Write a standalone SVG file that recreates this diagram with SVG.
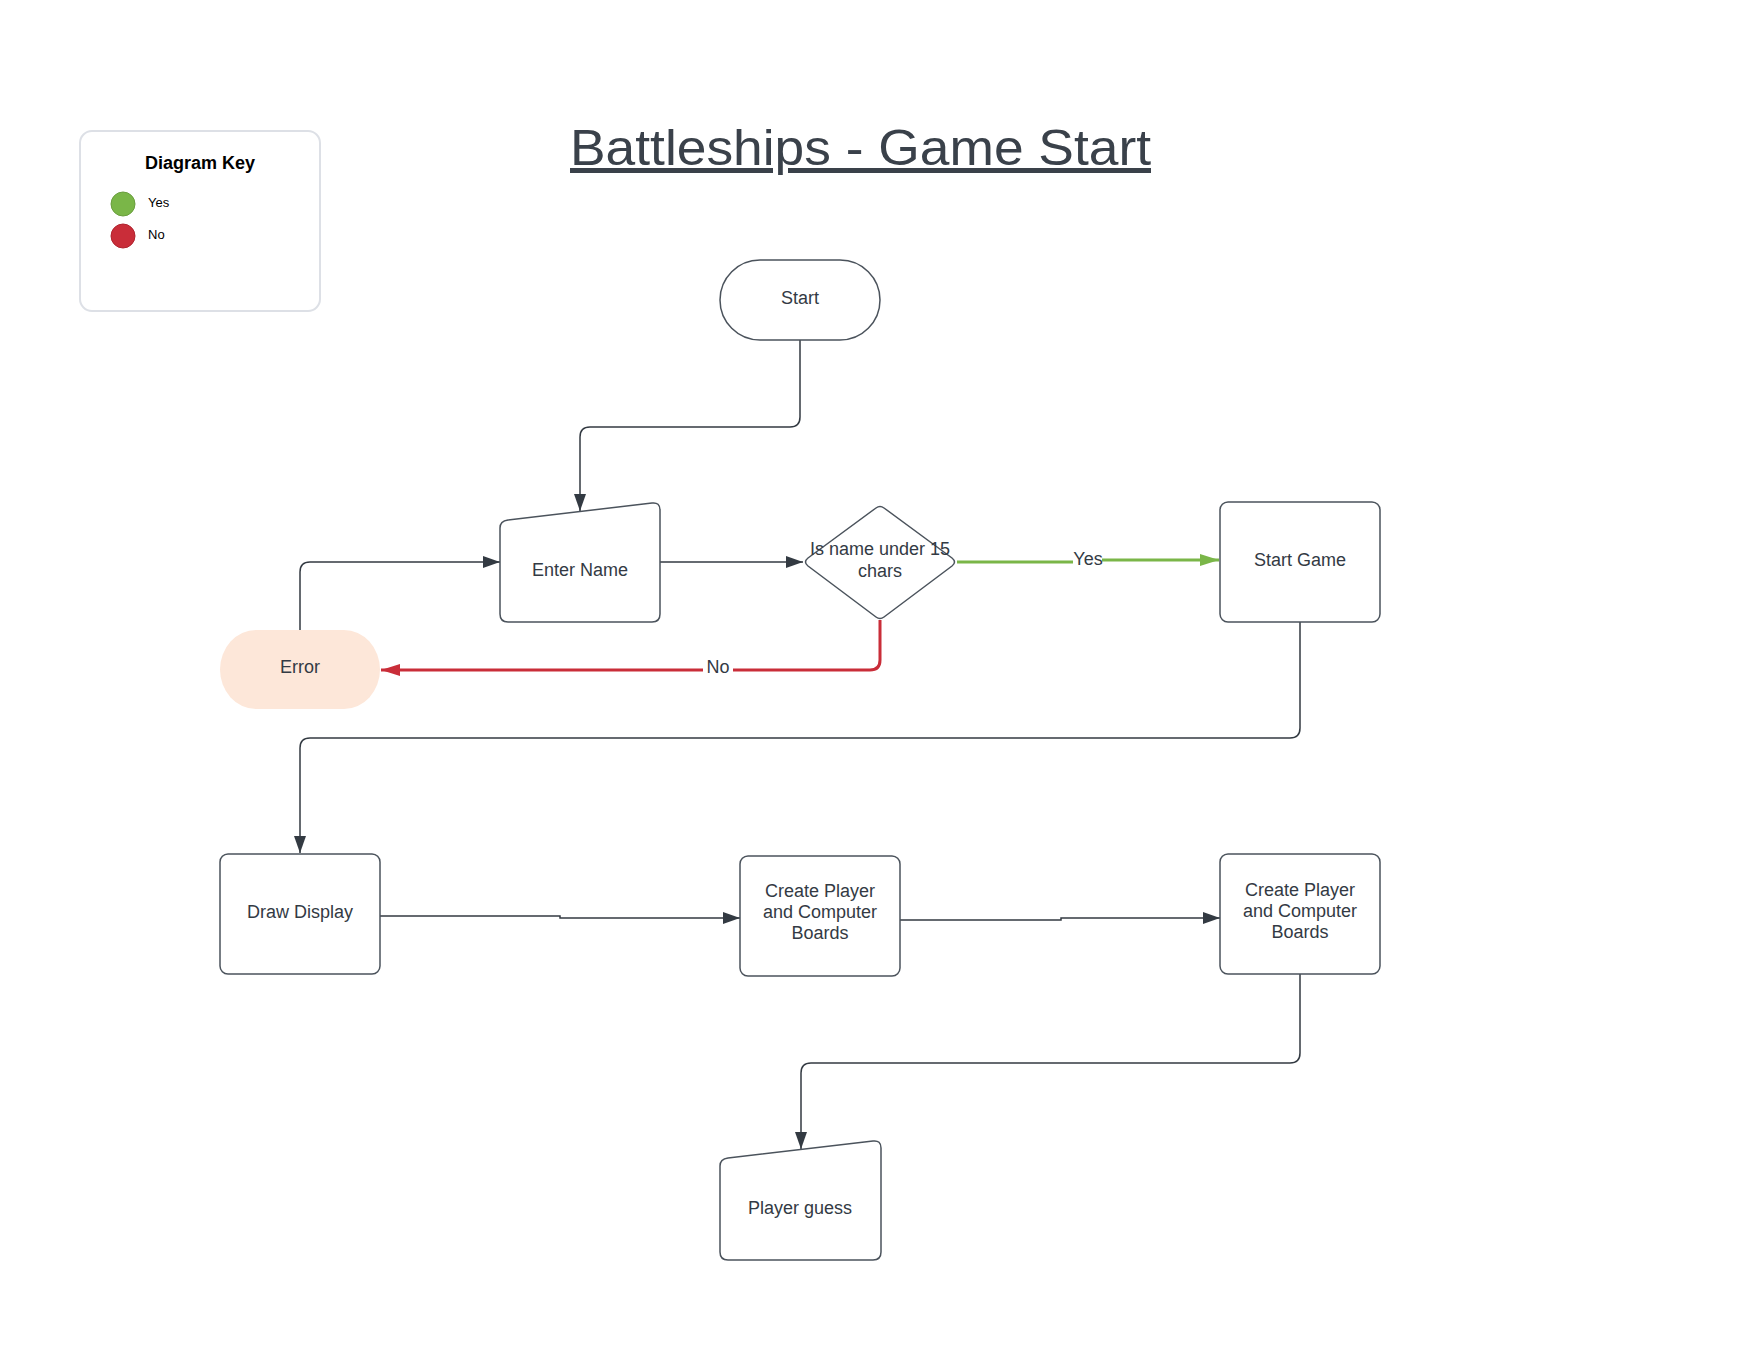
<svg xmlns="http://www.w3.org/2000/svg" width="1760" height="1360" viewBox="0 0 1760 1360">
  <style>
    .node { fill: #ffffff; stroke: #4b535c; stroke-width: 1.5; }
    .lbl { font-family: "Liberation Sans", Arial, sans-serif; font-size: 18px; fill: #333a44; text-anchor: middle; }
    .conn { fill: none; stroke: #333a42; stroke-width: 1.5; }
    .yes { fill: none; stroke: #7ab648; stroke-width: 3; }
    .no { fill: none; stroke: #c92d39; stroke-width: 3; }
    .clbl { font-family: "Liberation Sans", Arial, sans-serif; font-size: 18px; fill: #333a44; text-anchor: middle; }
    .key { font-family: "Liberation Sans", Arial, sans-serif; fill: #000000; }
  </style>
  <defs>
    <marker id="arr" markerUnits="userSpaceOnUse" markerWidth="18" markerHeight="14" refX="17" refY="6" orient="auto">
      <path d="M0,0 L17,6 L0,12 Z" fill="#333a42"/>
    </marker>
    <marker id="arrG" markerUnits="userSpaceOnUse" markerWidth="20" markerHeight="14" refX="19" refY="6" orient="auto">
      <path d="M0,0 L19,6 L0,12 Z" fill="#7ab648"/>
    </marker>
    <marker id="arrR" markerUnits="userSpaceOnUse" markerWidth="20" markerHeight="14" refX="19" refY="6" orient="auto">
      <path d="M0,0 L19,6 L0,12 Z" fill="#c92d39"/>
    </marker>
  </defs>
  <rect x="0" y="0" width="1760" height="1360" fill="#ffffff"/>

  <g id="title">
    <text x="570" y="165" font-family="Liberation Sans, Arial, sans-serif" font-size="50" fill="#3a414a" text-decoration="underline" textLength="581" lengthAdjust="spacingAndGlyphs">Battleships - Game Start</text>
  </g>

  <g id="diagram-key">
    <rect x="80" y="131" width="240" height="180" rx="12" ry="12" fill="#ffffff" stroke="#dde0e6" stroke-width="2"/>
    <text class="key" x="200" y="169" font-size="18" font-weight="bold" text-anchor="middle">Diagram Key</text>
    <circle cx="123" cy="204" r="12" fill="#7ab648" stroke="#6a9e3e" stroke-width="1"/>
    <text class="key" x="148" y="207" font-size="13">Yes</text>
    <circle cx="123" cy="236" r="12" fill="#c92d39" stroke="#b0242f" stroke-width="1"/>
    <text class="key" x="148" y="239" font-size="13">No</text>
  </g>

  <g id="connectors">
    <path class="conn" d="M800,340 V417 Q800,427 790,427 H590 Q580,427 580,437 V511" marker-end="url(#arr)"/>
    <path class="conn" d="M660,562 H803" marker-end="url(#arr)"/>
    <path class="conn" d="M300,630 V572 Q300,562 310,562 H500" marker-end="url(#arr)"/>
    <path class="yes" d="M957,562 H1073 M1102,560 H1219" marker-end="url(#arrG)"/>
    <text class="clbl" x="1088" y="565">Yes</text>
    <path class="no" d="M880,620 V660 Q880,670 870,670 H733 M703,670 H381" marker-end="url(#arrR)"/>
    <text class="clbl" x="718" y="673">No</text>
    <path class="conn" d="M1300,622 V728 Q1300,738 1290,738 H310 Q300,738 300,748 V853" marker-end="url(#arr)"/>
    <path class="conn" d="M380,916 H560 V918 H740" marker-end="url(#arr)"/>
    <path class="conn" d="M900,920 H1061 V918 H1220" marker-end="url(#arr)"/>
    <path class="conn" d="M1300,974 V1053 Q1300,1063 1290,1063 H811 Q801,1063 801,1073 V1149" marker-end="url(#arr)"/>
  </g>

  <g id="node-start">
    <rect class="node" x="720" y="260" width="160" height="80" rx="40" ry="40"/>
    <text class="lbl" x="800" y="304">Start</text>
  </g>

  <g id="node-enter-name">
    <path class="node" d="M508,520 L652,503 Q660,502 660,510 V614 Q660,622 652,622 H508 Q500,622 500,614 V528 Q500,521 508,520 Z"/>
    <text class="lbl" x="580" y="576">Enter Name</text>
  </g>

  <g id="node-decision">
    <path class="node" d="M876,508 Q880,505 884,508 L952,558 Q957,562 952,566 L884,617 Q880,620 876,617 L808,566 Q803,562 808,558 Z"/>
    <text class="lbl" x="880" y="555">Is name under 15</text>
    <text class="lbl" x="880" y="577">chars</text>
  </g>

  <g id="node-start-game">
    <rect class="node" x="1220" y="502" width="160" height="120" rx="8" ry="8"/>
    <text class="lbl" x="1300" y="566">Start Game</text>
  </g>

  <g id="node-error">
    <rect x="220" y="630" width="160" height="79" rx="36" ry="40" fill="#fde7d9"/>
    <text class="lbl" x="300" y="673">Error</text>
  </g>

  <g id="node-draw-display">
    <rect class="node" x="220" y="854" width="160" height="120" rx="8" ry="8"/>
    <text class="lbl" x="300" y="918">Draw Display</text>
  </g>

  <g id="node-create-boards-1">
    <rect class="node" x="740" y="856" width="160" height="120" rx="8" ry="8"/>
    <text class="lbl" x="820" y="897">Create Player</text>
    <text class="lbl" x="820" y="918">and Computer</text>
    <text class="lbl" x="820" y="939">Boards</text>
  </g>

  <g id="node-create-boards-2">
    <rect class="node" x="1220" y="854" width="160" height="120" rx="8" ry="8"/>
    <text class="lbl" x="1300" y="896">Create Player</text>
    <text class="lbl" x="1300" y="917">and Computer</text>
    <text class="lbl" x="1300" y="938">Boards</text>
  </g>

  <g id="node-player-guess">
    <path class="node" d="M728,1158 L873,1141 Q881,1140 881,1148 V1252 Q881,1260 873,1260 H728 Q720,1260 720,1252 V1166 Q720,1159 728,1158 Z"/>
    <text class="lbl" x="800" y="1214">Player guess</text>
  </g>
</svg>
